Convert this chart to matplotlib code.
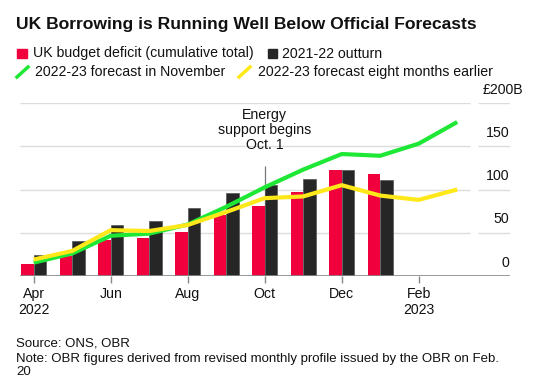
import matplotlib.pyplot as plt
import matplotlib.transforms as mtransforms
import numpy as np

plt.rcParams['font.family'] = ['Liberation Sans', 'DejaVu Sans']

# data (GBP billions, cumulative)
months = ['Apr', 'May', 'Jun', 'Jul', 'Aug', 'Sep', 'Oct', 'Nov', 'Dec', 'Jan', 'Feb', 'Mar']
deficit = [14, 23.5, 42, 43.5, 51, 70.5, 81, 97, 123, 117.5]
outturn = [24, 41, 59, 64, 78.5, 95.5, 105, 112, 123, 111]
nov_forecast = [15.5, 26, 46.5, 49, 59.5, 80, 102.5, 123, 141, 139, 153, 178]
early_forecast = [19, 29, 53, 52, 59, 74, 90, 92, 105, 93, 88, 100]
yticks = [0, 50, 100, 150, 200]
ytick_labels = ['0', '50', '100', '150', '£200B']
xtick_pos = [0, 2, 4, 6, 8, 10]
xtick_labels = ['Apr\n2022', 'Jun', 'Aug', 'Oct', 'Dec', 'Feb\n2023']
legend_labels = ['UK budget deficit (cumulative total)', '2021-22 outturn',
                 '2022-23 forecast in November', '2022-23 forecast eight months earlier']

RED = '#f0003c'
BLACK = '#262626'
GREEN = '#1ee835'
YELLOW = '#ffe81a'
FS = 10.2

W, H = 535, 387
fig = plt.figure(figsize=(W / 100, H / 100), dpi=100)
ax = fig.add_axes([20 / W, 1 - 276 / H, 490 / W, 173 / H])

step = 38.5
x0 = -13.7 / step
x1 = (510 - 33.7) / step
ax.set_xlim(x0, x1)
ax.set_ylim(0, 200)

# gridlines with a gap before the label column
gap0 = (470 - 33.7) / step
gap1 = (478 - 33.7) / step
for v in yticks[1:]:
    ax.hlines(v, x0, gap0, color='#dcdcdc', lw=1, zorder=0)
    ax.hlines(v, gap1, x1, color='#dcdcdc', lw=1, zorder=0)
ax.axhline(0, color='#888888', lw=1.2, zorder=4)

xb = np.arange(len(deficit))
bw = 0.325
ax.bar(xb - bw / 2, deficit, width=bw, color=RED, zorder=2)
ax.bar(xb + bw / 2, outturn, width=bw, color=BLACK, edgecolor='#555555', lw=0.5, zorder=2)

xl = np.arange(len(months))
ax.plot(xl, nov_forecast, color=GREEN, lw=3, solid_capstyle='butt', zorder=5)
ax.plot(xl, early_forecast, color=YELLOW, lw=3, solid_capstyle='butt', zorder=6)

# annotation
ax.vlines(6, 0, 127, color='#777777', lw=0.9, zorder=1)
ax.text(6, 143, 'Energy\nsupport begins\nOct. 1', ha='center', va='bottom',
        fontsize=FS, linespacing=1.1, color='#111111')

# y labels on the right
trans = mtransforms.blended_transform_factory(ax.transAxes, ax.transData)
for v, lab in zip(yticks, ytick_labels):
    xr = 0.998 if v != 200 else 1.027
    ax.text(xr, v + 15.5, lab, transform=trans, ha='right', va='center',
            fontsize=FS, color='#111111', clip_on=False)

ax.set_xticks(xtick_pos)
ax.set_xticklabels(xtick_labels, fontsize=FS, color='#111111', linespacing=1.15)
ax.tick_params(axis='x', length=5, width=1, color='#888888', pad=3)
ax.set_yticks([])
for s in ax.spines.values():
    s.set_visible(False)

# title
fig.text(16 / W, 1 - 25 / H, 'UK Borrowing is Running Well Below Official Forecasts',
         fontsize=12.6, fontweight='bold', va='center', ha='left', color='#111111')

# legend, drawn by hand
def fx(px):
    return px / W

def fy(py):
    return 1 - py / H

fig.patches.append(plt.Rectangle((fx(17), fy(58)), 9.5 / W, 9.5 / H, color=RED,
                                 transform=fig.transFigure))
fig.text(fx(33), fy(53.5), legend_labels[0], fontsize=FS, va='center', color='#111111')
fig.patches.append(plt.Rectangle((fx(268), fy(58)), 9 / W, 9 / H, color=BLACK,
                                 transform=fig.transFigure))
fig.text(fx(282), fy(53.5), legend_labels[1], fontsize=FS, va='center', color='#111111')
fig.lines.append(plt.Line2D([fx(17), fx(28)], [fy(77), fy(67)], color=GREEN, lw=2.5,
                            transform=fig.transFigure))
fig.text(fx(35), fy(72), legend_labels[2], fontsize=FS, va='center', color='#111111')
fig.lines.append(plt.Line2D([fx(239), fx(250)], [fy(77), fy(67)], color=YELLOW, lw=2.5,
                            transform=fig.transFigure))
fig.text(fx(258), fy(72), legend_labels[3], fontsize=FS, va='center', color='#111111')

# footer
FN = 9.5
fig.text(fx(16), fy(343), 'Source: ONS, OBR', fontsize=FN, va='center', color='#111111')
fig.text(fx(16), fy(359), 'Note: OBR figures derived from revised monthly profile issued by the OBR on Feb.',
         fontsize=FN, va='center', color='#111111')
fig.text(fx(16), fy(372), '20', fontsize=FN, va='center', color='#111111')

fig.savefig('out.png', dpi=100)
